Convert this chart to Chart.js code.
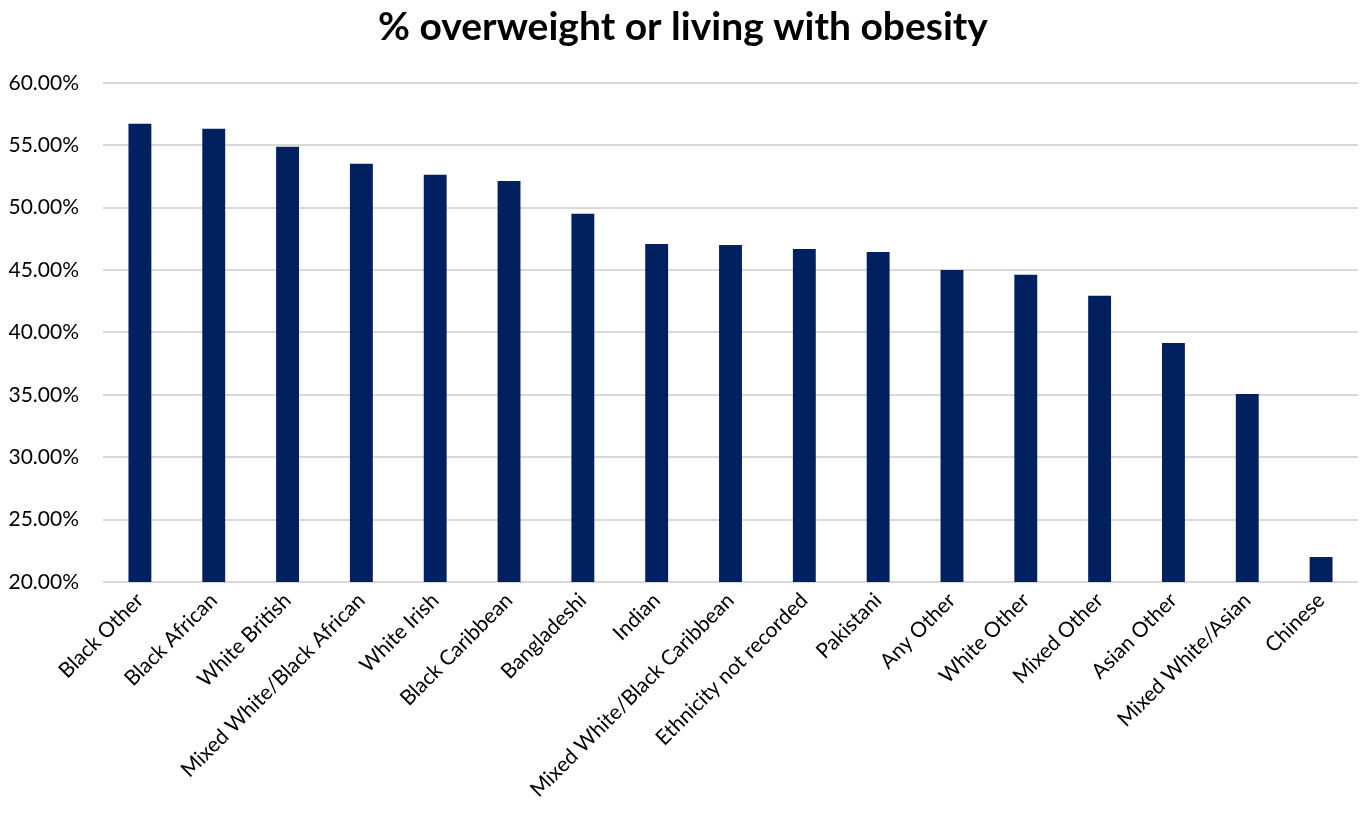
<!DOCTYPE html>
<html>
<head>
<meta charset="utf-8">
<script src="https://cdn.jsdelivr.net/npm/chart.js@4"></script>
<style>
html,body{margin:0;padding:0;background:#fff;}
#wrap{width:1365px;height:823px;position:relative;}
</style>
</head>
<body>
<div id="wrap"><canvas id="c"></canvas></div>
<script>
const categories = ["Black Other","Black African","White British","Mixed White/Black African","White Irish","Black Caribbean","Bangladeshi","Indian","Mixed White/Black Caribbean","Ethnicity not recorded","Pakistani","Any Other","White Other","Mixed Other","Asian Other","Mixed White/Asian","Chinese"];
const overweightPct = [56.71,56.31,54.87,53.51,52.63,52.14,49.50,47.09,47.00,46.69,46.45,45.01,44.61,42.93,39.16,35.07,22.00];
const yTicks = [20,25,30,35,40,45,50,55,60];
const titleText = "% overweight or living with obesity";

const FONT = "Lato, 'Open Sans', sans-serif";
new Chart(document.getElementById('c'), {
  type: 'bar',
  data: {
    labels: categories,
    datasets: [{
      data: overweightPct,
      backgroundColor: '#002060',
      barPercentage: 0.31,
      categoryPercentage: 1.0
    }]
  },
  options: {
    responsive: true,
    maintainAspectRatio: false,
    animation: false,
    layout: { padding: { left: 8, right: 7, top: 0, bottom: 0 } },
    plugins: {
      legend: { display: false },
      tooltip: { enabled: false },
      title: {
        display: true,
        text: titleText,
        color: '#000',
        font: { family: FONT, size: 39, weight: 'bold' },
        padding: { top: 4, bottom: 32 }
      }
    },
    scales: {
      y: {
        min: 20, max: 60,
        afterBuildTicks: (s) => { s.ticks = yTicks.map(v => ({ value: v })); },
        ticks: {
          color: '#000',
          font: { family: FONT, size: 21 },
          padding: 24,
          callback: (v) => Number(v).toFixed(2) + '%'
        },
        grid: { color: '#d9d9d9', lineWidth: 2, drawTicks: false },
        border: { display: false },
        afterFit: (s) => { s.width = 95; }
      },
      x: {
        ticks: {
          color: '#000',
          font: { family: FONT, size: 21 },
          minRotation: 45, maxRotation: 45,
          autoSkip: false,
          padding: 6
        },
        grid: { display: false, drawTicks: false },
        border: { display: false },
        afterFit: (s) => { s.height = 241; }
      }
    }
  }
});
</script>
</body>
</html>
